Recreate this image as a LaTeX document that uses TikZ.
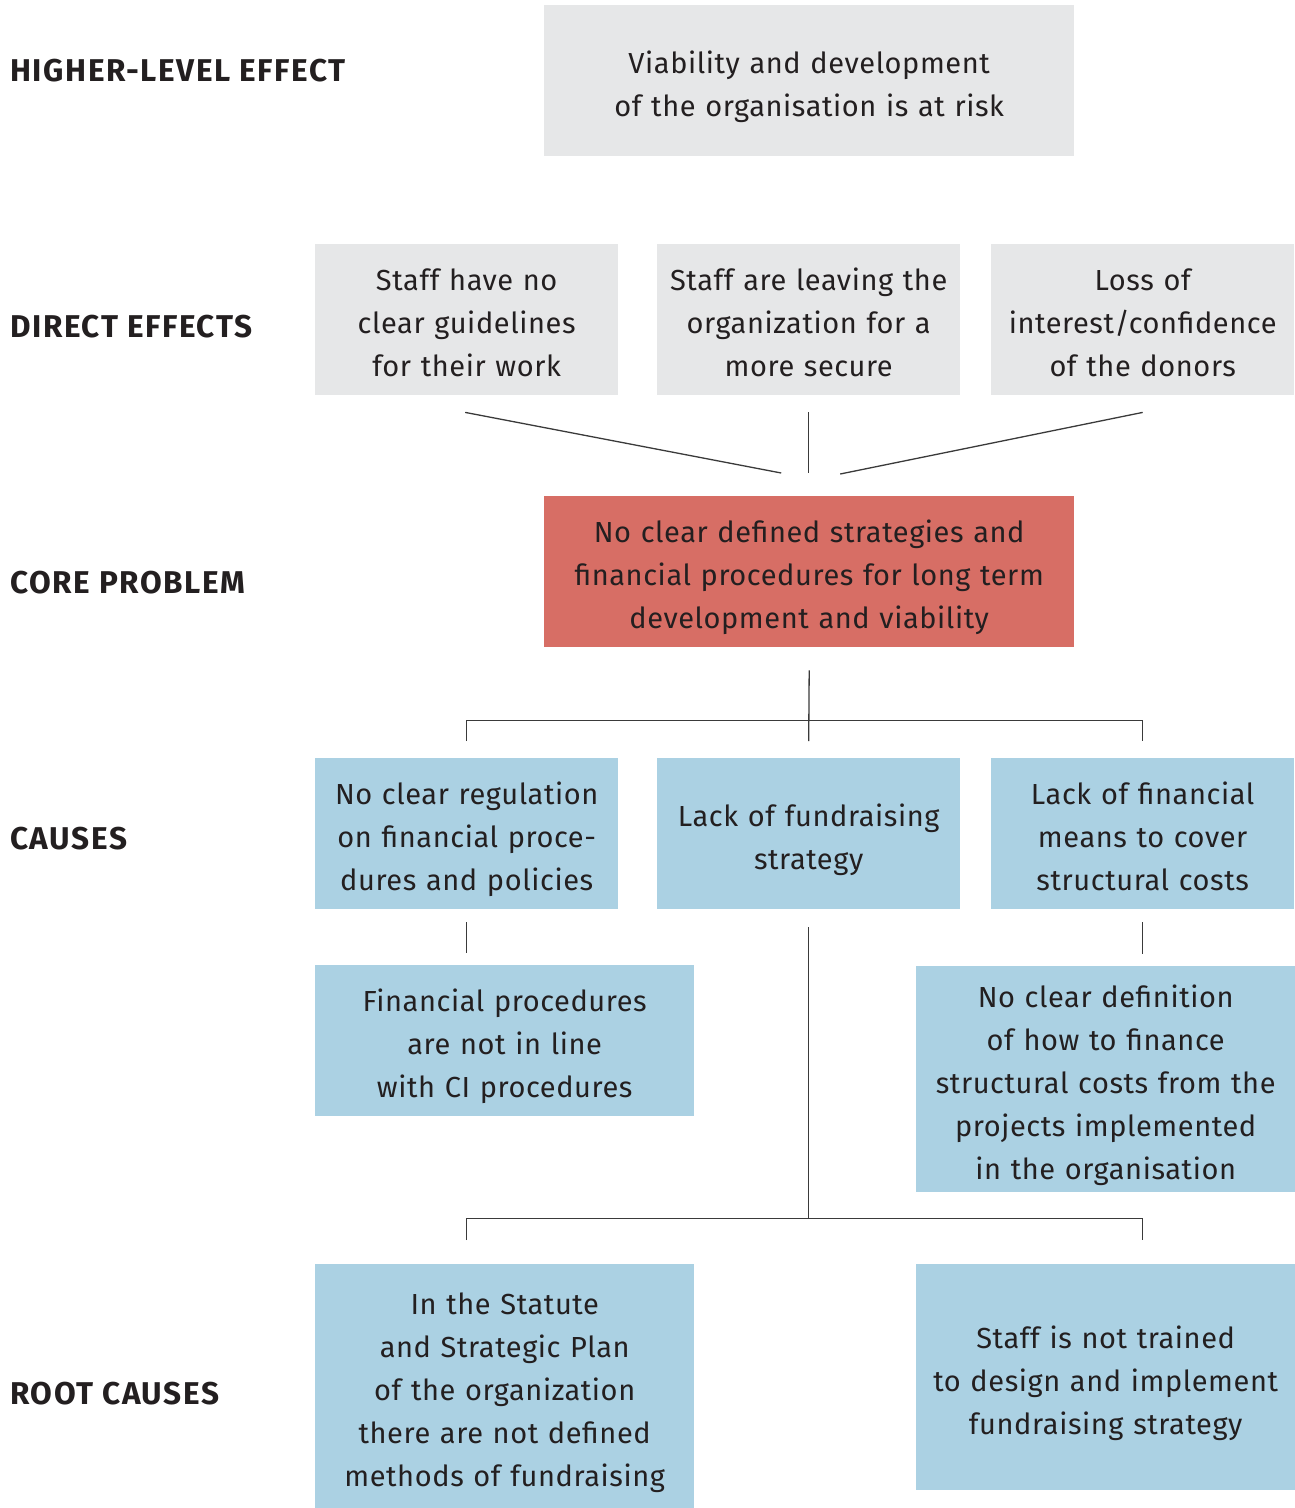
\documentclass[tikz,border=0pt]{standalone}
\usepackage{fontspec}
\setmainfont{Fira Sans}
\usetikzlibrary{calc}
\definecolor{txt}{HTML}{231F20}
\definecolor{boxgrey}{HTML}{E6E7E8}
\definecolor{boxred}{HTML}{D76E65}
\definecolor{boxblue}{HTML}{ABD1E3}
\definecolor{linecol}{HTML}{3A3A3A}
\newcommand\tstr{\rule{0pt}{36pt}}
\newcommand\bstr{\rule[-8pt]{0pt}{8pt}}
\tikzset{
  box/.style={anchor=north west, inner sep=0pt, align=center, text=txt,
    font=\fontsize{29}{43}\selectfont\addfontfeatures{LetterSpace=2}},
  greybox/.style={box, fill=boxgrey},
  redbox/.style={box, fill=boxred},
  bluebox/.style={box, fill=boxblue},
  rowlabel/.style={anchor=west, inner sep=0pt, text=txt,
    font=\fontsize{31.5}{36}\selectfont\bfseries\addfontfeatures{LetterSpace=5}},
  conn/.style={draw=linecol, line width=1.3pt}
}
\begin{document}
\begin{tikzpicture}[x=1pt,y=-1pt]
\useasboundingbox (0,0) rectangle (1295,1508);
% row labels
\node[rowlabel] (l1) at (10,71) {HIGHER-LEVEL EFFECT};
\node[rowlabel] (l2) at (10,327) {DIRECT EFFECTS};
\node[rowlabel] (l3) at (10,583) {CORE PROBLEM};
\node[rowlabel] (l4) at (10,839) {CAUSES};
\node[rowlabel] (l5) at (10,1394) {ROOT CAUSES};
% boxes
\node[greybox, minimum width=530pt, minimum height=151pt, text width=520pt] (top) at (544,5)
  {\tstr Viability and development\\of the organisation is at risk\bstr};
\node[greybox, minimum width=303pt, minimum height=151pt, text width=300pt] (d1) at (315,244)
  {\tstr Staff have no\\clear guidelines\\for their work\bstr};
\node[greybox, minimum width=303pt, minimum height=151pt, text width=300pt] (d2) at (657,244)
  {\tstr Staff are leaving the\\organization for a\\more secure\bstr};
\node[greybox, minimum width=303pt, minimum height=151pt, text width=300pt] (d3) at (991,244)
  {\tstr Loss of\\interest/confidence\\of the donors\bstr};
\node[redbox, minimum width=530pt, minimum height=151pt, text width=520pt] (core) at (544,496)
  {\tstr No clear defined strategies and\\financial procedures for long term\\development and viability\bstr};
\node[bluebox, minimum width=303pt, minimum height=151pt, text width=300pt] (c1) at (315,758)
  {\tstr No clear regulation\\on financial proce-\\dures and policies\bstr};
\node[bluebox, minimum width=303pt, minimum height=151pt, text width=300pt] (c2) at (657,758)
  {\tstr Lack of fundraising\\strategy\bstr};
\node[bluebox, minimum width=303pt, minimum height=151pt, text width=300pt] (c3) at (991,758)
  {\tstr Lack of financial\\means to cover\\structural costs\bstr};
\node[bluebox, minimum width=379pt, minimum height=151pt, text width=370pt] (s1) at (315,965)
  {\tstr Financial procedures\\are not in line\\with CI procedures\bstr};
\node[bluebox, minimum width=379pt, minimum height=226pt, text width=370pt] (s2) at (916,966)
  {\tstr No clear definition\\of how to finance\\structural costs from the\\projects implemented\\in the organisation\bstr};
\node[bluebox, minimum width=379pt, minimum height=244pt, text width=370pt] (r1) at (315,1264)
  {\tstr In the Statute\\and Strategic Plan\\of the organization\\there are not defined\\methods of fundraising\bstr};
\node[bluebox, minimum width=379pt, minimum height=226pt, text width=370pt] (r2) at (916,1264)
  {\tstr Staff is not trained\\to design and implement\\fundraising strategy\bstr};
% connectors: direct effects to core problem
\draw[conn] ($(d1.south)+(-1.5pt,-17pt)$) -- ($(core.north)+(-28pt,23pt)$);
\draw[conn] ($(d2.south)+(0,-17pt)$) -- ($(core.north)+(-0.5pt,23pt)$);
\draw[conn] ($(d3.south)+(0,-17pt)$) -- ($(core.north)+(31pt,22pt)$);
% core problem to causes
\coordinate (jc) at ($(core.south)+(0,-73pt)$);
\draw[conn] ($(core.south)+(0,-23pt)$) -- ($(c2.north)+(0,17pt)$);
\draw[conn] ($(c1.north)+(0,17pt)$) |- (jc) -| ($(c3.north)+(0,17pt)$);
% causes to sub-causes
\draw[conn] ($(c1.south)+(0,-13pt)$) -- ($(s1.north -| c1.south)+(0,12pt)$);
\draw[conn] ($(c3.south)+(0,-13pt)$) -- ($(s2.north -| c3.south)+(0,12pt)$);
% lack of fundraising strategy to root causes
\coordinate (jr) at ($(c2.south)+(0,-309pt)$);
\draw[conn] ($(c2.south)+(0,-18pt)$) -- (jr);
\draw[conn] ($(r1.north -| c1.south)+(0,24pt)$) |- (jr) -| ($(r2.north -| c3.south)+(0,24pt)$);
\end{tikzpicture}
\end{document}
